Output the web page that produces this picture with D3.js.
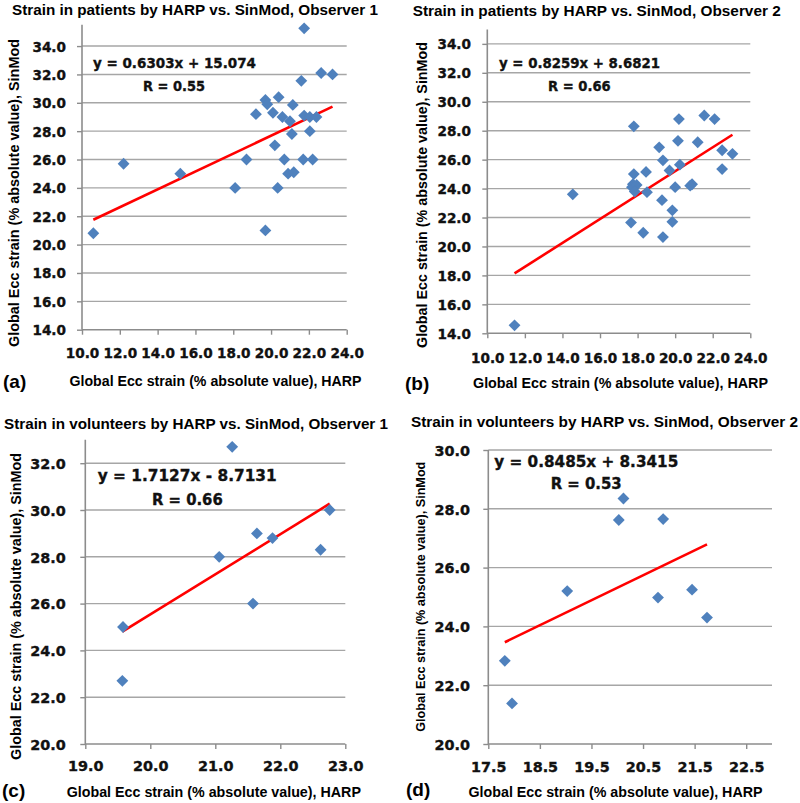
<!DOCTYPE html>
<html><head><meta charset="utf-8">
<script src="https://cdn.jsdelivr.net/npm/d3@7"></script>
<style>body{margin:0;background:#fff}svg{display:block}</style>
</head><body>
<svg id="c" width="800" height="803"></svg>
<script>
// ---------- DATA ----------
const titles = [
  "Strain in patients by HARP vs. SinMod, Observer 1",
  "Strain in patients by HARP vs. SinMod, Observer 2",
  "Strain in volunteers by HARP vs. SinMod, Observer 1",
  "Strain in volunteers by HARP vs. SinMod, Observer 2"
];
const panelLabels = ["(a)", "(b)", "(c)", "(d)"];
const xAxisTitle = "Global Ecc strain (% absolute value), HARP";
const yAxisTitle = "Global Ecc strain (% absolute value), SinMod";

const aHarp   = [12.2,15.2,18.1,18.7,19.2,19.7,19.8,20.1,20.2,20.4,20.6,20.7,20.35,20.9,21.0,21.1,21.15,21.2,21.6,21.75,21.7,21.75,22.05,22.05,22.2,22.4,22.65,23.25,10.6,19.7];
const aSinMod = [25.7,25.0,24.0,26.0,29.2,30.2,29.9,29.3,27.0,30.4,29.0,26.0,24.0,25.0,28.7,27.8,29.85,25.1,31.55,35.25,26.0,29.1,28.0,29.0,26.0,29.0,32.1,32.0,20.8,21.0];
const bHarp   = [17.8,17.8,17.75,18.45,19.15,19.35,19.7,20.2,20.15,20.25,20.0,21.2,21.55,22.1,22.5,23.05,22.5,20.9,20.8,14.55,17.7,17.95,17.85,18.5,19.3,19.85,19.85,17.65,18.3,19.35,11.45];
const bSinMod = [28.3,25.0,24.3,25.15,26.85,25.95,25.25,28.8,27.3,25.65,24.1,27.2,29.05,28.8,26.65,26.4,25.35,24.3,24.2,23.6,24.1,24.25,23.8,23.75,23.2,22.5,21.7,21.65,20.95,20.65,14.55];
const cHarp   = [21.26,21.06,21.64,21.88,22.62,22.76,21.58,19.58,19.57];
const cSinMod = [32.7,28.0,29.0,28.8,28.3,30.0,26.0,25.0,22.7];
const dHarp   = [20.12,20.03,20.89,19.03,21.45,20.79,21.74,17.82,17.96];
const dSinMod = [28.35,27.62,27.65,25.2,25.25,24.98,24.3,22.83,21.38];

// trendline coefficients (slope, intercept) and R as shown
const slopes     = [0.6303, 0.8259, 1.7127, 0.8485];
const intercepts = [15.074, 8.6821, -8.7131, 8.3415];
const eqTexts    = ["y = 0.6303x + 15.074", "y = 0.8259x + 8.6821", "y = 1.7127x - 8.7131", "y = 0.8485x + 8.3415"];
const rTexts     = ["R = 0.55", "R = 0.66", "R = 0.66", "R = 0.53"];

const abXTicks = [10,12,14,16,18,20,22,24];
const abYTicks = [14,16,18,20,22,24,26,28,30,32,34];
const cXTicks  = [19,20,21,22,23];
const cYTicks  = [20,22,24,26,28,30,32];
const dXTicks  = [17.5,18.5,19.5,20.5,21.5,22.5];
const dYTicks  = [20,22,24,26,28,30];

// ---------- LAYOUT ----------
const panels = [
  {xs:aHarp, ys:aSinMod, xd:[10,24], yd:[14,35.5], xt:abXTicks, yt:abYTicks,
   L:82, R:346.7, B:329.7, T:24.8, tickFs:13.6, yLabR:66, xLabBase:358,
   title:{x:12,y:15,w:366}, xt2:{cx:215.5,y:386,w:292}, yt2:{x:18.5,cy:193,w:308,fs:14.4},
   eq:{x:93,y:68.3,w:163,fs:14}, r:{x:143,y:90.7,w:62}, lab:{x:3,y:388}},
  {xs:bHarp, ys:bSinMod, xd:[10,24], yd:[14,35], xt:abXTicks, yt:abYTicks,
   L:487.3, R:750.3, B:333.3, T:29.4, tickFs:13.6, yLabR:471, xLabBase:363,
   title:{x:412.7,y:16,w:368}, xt2:{cx:620.5,y:388,w:295}, yt2:{x:427,cy:195,w:306,fs:14.3},
   eq:{x:499,y:68.3,w:161,fs:14}, r:{x:548,y:90.7,w:62.7}, lab:{x:405,y:390}},
  {xs:cHarp, ys:cSinMod, xd:[19,23], yd:[20,33], xt:cXTicks, yt:cYTicks,
   L:85.3, R:345.3, B:744, T:439.8, tickFs:14.4, yLabR:65.7, xLabBase:771,
   title:{x:4,y:429.3,w:384}, xt2:{cx:213.8,y:797.3,w:294.3}, yt2:{x:20.6,cy:606.5,w:307,fs:14.3},
   eq:{x:97.7,y:481,w:179,fs:15.5}, r:{x:152,y:505.3,w:70.7}, lab:{x:2,y:797}},
  {xs:dHarp, ys:dSinMod, xd:[17.5,23], yd:[20,30], xt:dXTicks, yt:dYTicks,
   L:488.3, R:772, B:744, T:450, tickFs:14.4, yLabR:470, xLabBase:772,
   title:{x:411,y:426.7,w:387}, xt2:{cx:615.5,y:797.3,w:294}, yt2:{x:425,cy:596.7,w:270,fs:13.6},
   eq:{x:494.3,y:466.7,w:184,fs:15.5}, r:{x:550.7,y:489.3,w:71}, lab:{x:406,y:796}}
];

const svg = d3.select("#c");
const sans = "'Liberation Sans', Arial, sans-serif";
const wide = "'DejaVu Sans', Verdana, sans-serif";
const gridCol = "#a6a6a6", axisCol = "#8c8c8c", blue = "#4f81bd";

panels.forEach((p, i) => {
  const g = svg.append("g");
  const x = d3.scaleLinear().domain(p.xd).range([p.L, p.R]);
  const y = d3.scaleLinear().domain(p.yd).range([p.B, p.T]);

  // gridlines
  g.selectAll(".grid").data(p.yt.filter(v => v !== p.yd[0])).join("line")
    .attr("x1", p.L).attr("x2", p.R).attr("y1", d => y(d)).attr("y2", d => y(d))
    .attr("stroke", gridCol).attr("stroke-width", 1.4);

  // axes via d3 axis generators
  const xa = d3.axisBottom(x).tickValues(p.xt).tickSize(5).tickFormat(d3.format(".1f"));
  const ya = d3.axisLeft(y).tickValues(p.yt).tickSize(5).tickFormat(d3.format(".1f"));
  const gx = g.append("g").attr("transform", `translate(0,${p.B})`).call(xa);
  const gy = g.append("g").attr("transform", `translate(${p.L},0)`).call(ya);
  [gx, gy].forEach(a => {
    a.attr("font-family", null).attr("font-size", null);
    a.select(".domain").attr("stroke", axisCol).attr("stroke-width", 1.6);
    a.selectAll(".tick line").attr("stroke", axisCol).attr("stroke-width", 1.4);
    a.selectAll(".tick text").attr("font-family", wide).attr("font-weight", "bold")
      .attr("font-size", p.tickFs).attr("fill", "#111")
      .attr("stroke", "#111").attr("stroke-width", 0.35);
  });
  gx.select(".domain").attr("d", `M${p.L},0H${p.R}`);
  gy.select(".domain").attr("d", `M0,${p.B}V${p.T}`);
  gx.selectAll(".tick text").attr("dy", null).attr("y", p.xLabBase - p.B);
  gy.selectAll(".tick text").attr("dy", null).attr("x", p.yLabR - p.L)
    .attr("y", p.tickFs * 0.729 / 2);

  // trendline
  const xmin = d3.min(p.xs), xmax = d3.max(p.xs);
  g.append("line")
    .attr("x1", x(xmin)).attr("y1", y(slopes[i] * xmin + intercepts[i]))
    .attr("x2", x(xmax)).attr("y2", y(slopes[i] * xmax + intercepts[i]))
    .attr("stroke", "#ff0000").attr("stroke-width", 2.6);

  // points
  const sym = d3.symbol().type(d3.symbolSquare).size(70);
  g.selectAll(".pt").data(p.xs.map((v, k) => [v, p.ys[k]])).join("path")
    .attr("d", sym)
    .attr("transform", d => `translate(${x(d[0])},${y(d[1])}) rotate(45)`)
    .attr("fill", blue);

  // equation text
  [[eqTexts[i], p.eq.x, p.eq.y, p.eq.w], [rTexts[i], p.r.x, p.r.y, p.r.w]].forEach(t => {
    g.append("text").attr("x", t[1]).attr("y", t[2]).text(t[0])
      .attr("font-family", wide).attr("font-weight", "bold").attr("font-size", p.eq.fs)
      .attr("fill", "#111").attr("stroke", "#111").attr("stroke-width", 0.35)
      .attr("textLength", t[3]).attr("lengthAdjust", "spacingAndGlyphs");
  });

  // title
  g.append("text").attr("x", p.title.x).attr("y", p.title.y).text(titles[i])
    .attr("font-family", sans).attr("font-weight", "bold").attr("font-size", 15.2)
    .attr("textLength", p.title.w).attr("lengthAdjust", "spacingAndGlyphs");

  // x axis title
  g.append("text").attr("x", p.xt2.cx).attr("y", p.xt2.y).attr("text-anchor", "middle")
    .text(xAxisTitle).attr("font-family", sans).attr("font-weight", "bold").attr("font-size", 14.3)
    .attr("textLength", p.xt2.w).attr("lengthAdjust", "spacingAndGlyphs");

  // y axis title
  g.append("text").attr("transform", `translate(${p.yt2.x},${p.yt2.cy}) rotate(-90)`)
    .attr("text-anchor", "middle").text(yAxisTitle)
    .attr("font-family", sans).attr("font-weight", "bold").attr("font-size", p.yt2.fs)
    .attr("textLength", p.yt2.w).attr("lengthAdjust", "spacingAndGlyphs");

  // panel label
  g.append("text").attr("x", p.lab.x).attr("y", p.lab.y).text(panelLabels[i])
    .attr("font-family", sans).attr("font-weight", "bold").attr("font-size", 19);
});
</script>
</body></html>
